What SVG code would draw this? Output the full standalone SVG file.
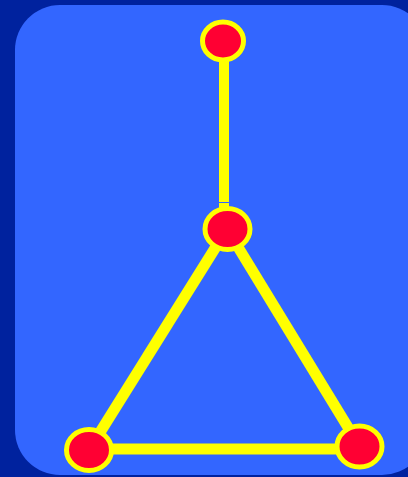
<svg xmlns="http://www.w3.org/2000/svg" width="408" height="477" viewBox="0 0 408 477">
<style>
.edge{stroke:#ffff00;stroke-width:11;fill:none}
.node{fill:#ff0033;stroke:#ffff00;stroke-width:5}
</style>
<rect x="0" y="0" width="408" height="477" fill="#00229e"/>
<rect x="15" y="5" width="412" height="470" rx="45" ry="45" fill="#3366ff"/>
<g id="connectors">
<line class="edge" x1="224" y1="41" x2="224" y2="202" style="stroke-width:10"/>
<line class="edge" x1="224" y1="203" x2="224" y2="229" style="stroke-width:10"/>
<line class="edge" x1="227" y1="229" x2="89" y2="450"/>
<line class="edge" x1="227" y1="229" x2="360" y2="447"/>
<line class="edge" x1="89" y1="449" x2="360" y2="449"/>
</g>
<g id="n1"><ellipse class="node" cx="223" cy="41" rx="20.5" ry="19"/></g>
<g id="n2"><ellipse class="node" cx="227.5" cy="229" rx="22.5" ry="20.5"/></g>
<g id="n3"><ellipse class="node" cx="89" cy="450" rx="22.5" ry="20.5"/></g>
<g id="n4"><ellipse class="node" cx="359.5" cy="446.5" rx="22.5" ry="20.5"/></g>
</svg>
